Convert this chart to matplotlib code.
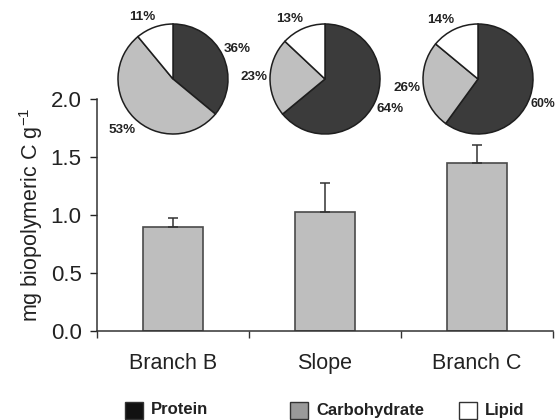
import matplotlib
matplotlib.use("Agg")
import matplotlib.pyplot as plt
from matplotlib.patches import Rectangle

plt.rcParams['font.family'] = ['Liberation Sans', 'DejaVu Sans']
plt.rcParams['mathtext.fontset'] = 'custom'
plt.rcParams['mathtext.rm'] = 'Liberation Sans'

# sites, biopolymeric carbon and upper error
sites = ["Branch B", "Slope", "Branch C"]
biopoly_c = [0.90, 1.03, 1.45]
biopoly_err = [0.07, 0.25, 0.15]

# composition (%) per site: protein, carbohydrate, lipid
fractions = ["Protein", "Carbohydrate", "Lipid"]
composition = [
    [36, 53, 11],
    [64, 23, 13],
    [60, 26, 14],
]

PIE_COLORS = ["#3b3b3b", "#bfbfbf", "#ffffff"]
KEY_COLORS = ["#111111", "#9a9a9a", "#ffffff"]
BAR_COLOR = "#bebebe"
INK = "#222222"

W, H = 557, 420
fig = plt.figure(figsize=(W / 100, H / 100), dpi=100)

ax = fig.add_axes([97 / W, 1 - 331 / H, 456 / W, 232 / H])
x = list(range(len(sites)))
ax.bar(x, biopoly_c, width=0.40, color=BAR_COLOR, edgecolor="#4a4a4a",
       linewidth=1.2, zorder=2)
ax.errorbar(x, biopoly_c, yerr=[[0] * len(x), biopoly_err], fmt="none",
            ecolor="#333333", elinewidth=1.1, capsize=3.6, capthick=1.1,
            zorder=3)

ax.set_xlim(-0.5, 2.5)
ax.set_ylim(0, 2.0)
ax.set_yticks([0, 0.5, 1.0, 1.5, 2.0])
ax.set_yticklabels(["0.0", "0.5", "1.0", "1.5", "2.0"])
ax.set_xticks(x)
ax.set_xticklabels(sites)
ax.set_xticks([-0.5, 0.5, 1.5, 2.5], minor=True)
ax.tick_params(axis="x", which="major", length=0, pad=16, labelsize=15.5,
               colors=INK)
ax.tick_params(axis="x", which="minor", length=5, width=1, color="#333333")
ax.tick_params(axis="y", length=5, width=1, pad=6, labelsize=16,
               colors=INK)
for side in ("top", "right"):
    ax.spines[side].set_visible(False)
for side in ("left", "bottom"):
    ax.spines[side].set_color("#333333")
    ax.spines[side].set_linewidth(1.1)
ax.set_ylabel("mg biopolymeric C g$^{\\mathregular{-1}}$", fontsize=15.5,
              color=INK, labelpad=4)

# composition pies above each bar
pie_cx = [173, 325, 478]
pie_cy = 79
r = 55
for i, (cx, comp) in enumerate(zip(pie_cx, composition)):
    pax = fig.add_axes([(cx - r) / W, 1 - (pie_cy + r) / H, 2 * r / W, 2 * r / H])
    wedges, texts = pax.pie(comp, colors=PIE_COLORS, startangle=90,
                            counterclock=False,
                            labels=[f"{v}%" for v in comp], labeldistance=1.3,
                            wedgeprops=dict(edgecolor="#1e1e1e", linewidth=1.1),
                            textprops=dict(fontsize=9.7, fontweight="bold",
                                           color=INK, ha="center", va="center"))
    pax.set_xlim(-1, 1)
    pax.set_ylim(-1, 1)
    # lipid label sits a little lower and further left than the wedge centre
    lx, ly = texts[2].get_position()
    texts[2].set_position((lx - 0.12, ly - 0.1))
    if i == len(pie_cx) - 1:
        # last protein label hugs the rim so it stays inside the figure
        texts[0].set_position((0.95, -0.45))
        texts[0].set_ha("left")
        texts[0].set_fontsize(8.8)
    for t in texts:
        t.set_clip_on(False)

# key along the bottom
key_x = [125, 290, 459]
for kx, name, col in zip(key_x, fractions, KEY_COLORS):
    fig.add_artist(Rectangle((kx / W, 1 - 419 / H), 18 / W, 17 / H,
                             transform=fig.transFigure, facecolor=col,
                             edgecolor="#333333", linewidth=1))
    fig.text((kx + 26) / W, 1 - 410 / H, name, fontsize=12,
             fontweight="bold", color=INK, va="center", ha="left")

fig.savefig("out.png", dpi=100)
